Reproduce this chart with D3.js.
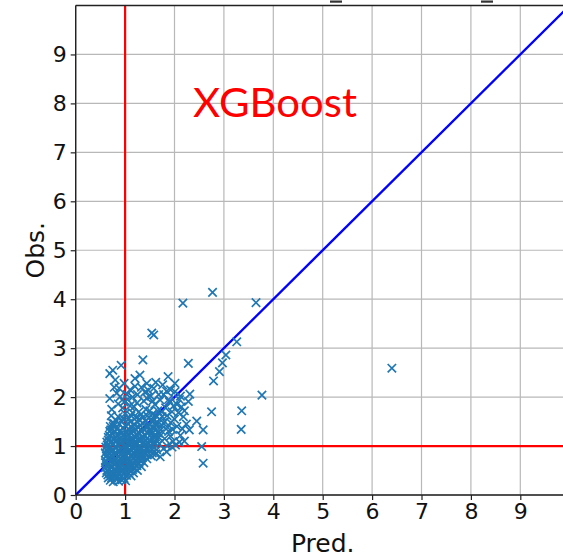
<!DOCTYPE html>
<html>
<head>
<meta charset="utf-8">
<script src="https://cdn.jsdelivr.net/npm/d3@7"></script>
<style>
  html, body { margin: 0; padding: 0; background: #fff; }
  svg { display: block; }
</style>
</head>
<body>
<svg id="chart" width="563" height="558"></svg>
<script>
// Axis ticks
const xTicks = [0, 1, 2, 3, 4, 5, 6, 7, 8, 9];
const yTicks = [0, 1, 2, 3, 4, 5, 6, 7, 8, 9];
const domainMax = 10;

// Reference thresholds (red lines)
const predThreshold = 1;
const obsThreshold = 1;

// Model label
const modelName = "XGBoost";

// Predicted vs observed pairs: [pred, obs]
const points = [
  // dense core
  [0.70,0.30],[0.76,0.27],[0.81,0.33],[0.87,0.28],[0.93,0.31],[0.98,0.34],[0.73,0.35],[0.84,0.36],[1.01,0.29],
  [0.65,0.41],[0.71,0.39],[0.77,0.43],[0.82,0.40],[0.88,0.44],[0.92,0.38],[0.97,0.42],[1.03,0.40],[1.08,0.44],[0.69,0.45],[0.86,0.46],[1.12,0.39],
  [0.63,0.50],[0.68,0.53],[0.74,0.48],[0.79,0.52],[0.84,0.49],[0.90,0.54],[0.95,0.50],[1.00,0.47],[1.05,0.53],[1.10,0.49],[1.15,0.52],[0.72,0.56],[0.88,0.57],[1.19,0.55],
  [0.62,0.60],[0.67,0.63],[0.73,0.59],[0.78,0.62],[0.83,0.65],[0.89,0.60],[0.94,0.64],[0.99,0.58],[1.04,0.62],[1.09,0.66],[1.13,0.59],[1.18,0.63],[1.24,0.60],[0.76,0.67],[1.01,0.68],[1.28,0.65],
  [0.61,0.70],[0.66,0.73],[0.71,0.69],[0.80,0.72],[0.86,0.70],[0.91,0.74],[0.96,0.71],[1.06,0.73],[1.11,0.70],[1.16,0.75],[1.21,0.71],[1.26,0.74],[1.31,0.70],[0.69,0.77],[0.85,0.78],[0.98,0.77],[1.14,0.79],[1.35,0.76],
  [0.62,0.80],[0.67,0.84],[0.74,0.81],[0.79,0.85],[0.90,0.82],[0.95,0.86],[1.02,0.81],[1.08,0.85],[1.12,0.82],[1.19,0.86],[1.23,0.80],[1.29,0.84],[1.34,0.81],[1.40,0.85],[0.72,0.88],[0.88,0.89],[1.05,0.89],[1.27,0.90],[1.45,0.82],
  [0.63,0.91],[0.68,0.95],[0.76,0.92],[0.82,0.96],[0.92,0.93],[0.99,0.91],[1.03,0.96],[1.10,0.92],[1.16,0.95],[1.21,0.91],[1.32,0.94],[1.37,0.90],[1.42,0.95],[1.48,0.91],[0.80,0.99],[0.97,0.99],[1.14,0.99],[1.55,0.93],
  [0.64,1.02],[0.70,1.00],[0.75,1.05],[0.86,1.03],[0.91,1.06],[1.00,1.01],[1.07,1.04],[1.12,1.07],[1.18,1.02],[1.24,1.05],[1.30,1.00],[1.35,1.04],[1.41,1.01],[1.46,1.06],[1.52,1.02],[1.60,1.04],[0.94,1.09],[1.21,1.10],[1.38,1.09],
  [0.66,1.12],[0.72,1.09],[0.78,1.14],[0.84,1.11],[0.89,1.16],[1.03,1.13],[1.09,1.15],[1.15,1.11],[1.26,1.14],[1.32,1.12],[1.44,1.15],[1.50,1.11],[1.56,1.14],[1.63,1.12],[0.81,1.19],[1.00,1.19],[1.18,1.20],[1.35,1.19],
  [0.68,1.22],[0.74,1.25],[0.87,1.23],[0.93,1.26],[0.97,1.21],[1.06,1.24],[1.12,1.27],[1.23,1.23],[1.29,1.26],[1.40,1.22],[1.46,1.27],[1.53,1.24],[1.59,1.21],[0.79,1.29],[1.02,1.30],[1.17,1.31],[1.34,1.30],[1.66,1.27],
  [0.71,1.33],[0.84,1.35],[0.90,1.32],[0.96,1.37],[1.08,1.34],[1.14,1.38],[1.21,1.35],[1.27,1.39],[1.38,1.34],[1.44,1.37],[1.50,1.33],[1.57,1.38],[0.76,1.40],[1.01,1.41],[1.31,1.42],[1.63,1.35],
  [0.74,1.47],[0.88,1.45],[0.94,1.50],[1.05,1.46],[1.11,1.49],[1.18,1.44],[1.24,1.50],[1.35,1.47],[1.42,1.51],[1.48,1.45],[1.55,1.49],[0.82,1.52],[1.29,1.54],[1.61,1.46],
  [1.02,0.55],[1.07,0.59],[1.22,0.67],[1.30,0.78],[1.38,0.88],[1.50,0.98],[1.58,1.08],[1.68,1.18],[1.72,1.33],[1.66,1.45],[1.58,1.56],[1.45,1.62],
  [1.36,1.58],[1.22,1.58],[1.08,1.56],[0.96,1.57],[0.86,1.60],[1.00,1.66],[1.15,1.68],[1.32,1.64],[1.50,1.72],[1.62,1.62],[1.74,1.70],[1.80,1.50],
  [1.86,1.38],[1.92,1.20],[1.96,1.34],[2.00,1.55],[1.84,0.88],[1.62,0.84],[1.53,0.80],[1.44,0.74],[1.38,0.66],[1.33,0.58],[1.25,0.50],[1.17,0.45],
  [0.66,0.35],[0.62,0.45],[0.60,0.56],[0.60,0.66],[0.60,0.86],[0.61,0.98],[0.63,1.08],[0.66,1.18],[0.69,1.30],[0.70,1.40],[0.78,1.46],[1.54,1.31],
  [1.62,1.19],[1.69,1.05],[1.55,0.86],[1.26,0.95],[1.36,1.16],[1.47,1.40],
  // upper spread
  [0.69,2.48],[0.92,2.65],[0.80,2.35],[0.69,1.97],[0.73,1.75],[0.90,2.01],[0.78,2.20],[0.86,1.86],[0.72,1.62],[0.95,1.78],[0.83,2.08],[0.98,2.28],[0.75,2.55],
  [1.20,2.38],[1.30,2.45],[1.44,2.28],[1.47,2.14],[1.87,2.42],[2.01,2.28],[2.01,2.11],[1.71,1.94],[1.36,2.76],[1.10,2.15],[1.25,2.05],[1.38,1.92],[1.52,2.02],
  [1.60,1.85],[1.18,1.80],[1.28,1.70],[1.42,1.75],[1.55,1.65],[1.66,1.72],[1.75,1.60],[1.82,1.78],[1.90,1.90],[1.95,1.70],[2.05,1.85],[1.12,1.62],[1.05,1.95],
  [1.33,2.20],[1.62,2.30],[1.78,2.05],[1.15,2.00],[1.48,1.58],[1.70,1.55],[1.85,1.62],[2.10,1.95],[1.92,2.15],
  [2.08,1.68],[2.14,1.80],[1.98,1.82],[1.88,1.95],[1.68,2.05],[1.56,1.92],[1.44,1.98],[1.24,1.88],[1.10,1.82],[0.98,1.90],[0.88,2.18],[1.04,2.05],
  [1.20,2.22],[1.40,2.10],[1.58,2.18],[1.76,2.25],[1.84,2.12],[2.12,2.02],
  // right of the core
  [1.71,0.78],[1.64,0.92],[1.97,1.09],[1.80,1.15],[1.88,1.30],[2.05,1.40],[1.75,1.42],[2.18,1.60],[2.30,1.33],[2.28,1.91],[2.31,2.06],[1.92,1.48],
  [2.12,1.22],[1.85,1.00],[2.02,1.02],[1.70,1.25],[1.78,0.95],[2.20,1.10],[2.20,1.72],[2.24,1.45],[2.16,1.35],[2.10,1.08],[1.95,0.98],
  // outliers
  [2.17,3.92],[2.77,4.14],[3.65,3.93],[3.26,3.13],[1.54,3.31],[1.58,3.27],[2.28,2.69],[3.04,2.86],[2.97,2.70],[2.91,2.52],[2.79,2.33],
  [3.77,2.04],[3.36,1.72],[3.35,1.34],[2.75,1.70],[2.58,1.33],[2.55,0.99],[2.58,0.65],[2.45,1.51],[6.40,2.59]
];

const svg = d3.select("#chart");
const x = d3.scaleLinear().domain([0, domainMax]).range([75.7, 569.7]);
const y = d3.scaleLinear().domain([0, domainMax]).range([495, 5.5]);

const fontTicks = "'DejaVu Sans', sans-serif";

// clip region for the plot area
svg.append("defs").append("clipPath").attr("id", "plotClip")
  .append("rect")
  .attr("x", x(0)).attr("y", y(domainMax))
  .attr("width", x(domainMax) - x(0)).attr("height", y(0) - y(domainMax));

// grid
const grid = svg.append("g");
grid.selectAll("line.gx").data(xTicks.concat([domainMax])).join("line")
  .attr("x1", d => x(d)).attr("x2", d => x(d))
  .attr("y1", y(0)).attr("y2", y(domainMax))
  .attr("stroke", "#b8b8b8").attr("stroke-width", 1.2);
grid.selectAll("line.gy").data(yTicks.concat([domainMax])).join("line")
  .attr("y1", d => y(d)).attr("y2", d => y(d))
  .attr("x1", x(0)).attr("x2", x(domainMax))
  .attr("stroke", "#b8b8b8").attr("stroke-width", 1.2);

const plot = svg.append("g").attr("clip-path", "url(#plotClip)");

// threshold lines
plot.append("line")
  .attr("x1", x(predThreshold)).attr("x2", x(predThreshold))
  .attr("y1", y(0)).attr("y2", y(domainMax))
  .attr("stroke", "#ff0000").attr("stroke-width", 2.2);
plot.append("line")
  .attr("x1", x(0)).attr("x2", x(domainMax))
  .attr("y1", y(obsThreshold)).attr("y2", y(obsThreshold))
  .attr("stroke", "#ff0000").attr("stroke-width", 2.2);

// identity line
plot.append("line")
  .attr("x1", x(0)).attr("y1", y(0))
  .attr("x2", x(domainMax)).attr("y2", y(domainMax))
  .attr("stroke", "#0000ff").attr("stroke-width", 2.4);

// x markers
const m = 4.2;
plot.append("g").selectAll("path").data(points).join("path")
  .attr("d", d => {
    const cx = x(d[0]), cy = y(d[1]);
    return `M${cx - m},${cy - m}L${cx + m},${cy + m}M${cx - m},${cy + m}L${cx + m},${cy - m}`;
  })
  .attr("fill", "none")
  .attr("stroke", "#1f77b4")
  .attr("stroke-width", 1.7);

// axes
const axL = svg.append("g").attr("transform", `translate(${x(0)},0)`)
  .call(d3.axisLeft(y).tickValues(yTicks).tickFormat(d3.format("d")).tickSize(5).tickPadding(4));
const axB = svg.append("g").attr("transform", `translate(0,${y(0)})`)
  .call(d3.axisBottom(x).tickValues(xTicks).tickFormat(d3.format("d")).tickSize(5).tickPadding(3));
[axL, axB].forEach(ax => {
  ax.select(".domain").remove();
  ax.selectAll(".tick line").attr("stroke", "#222").attr("stroke-width", 1.2);
  ax.selectAll(".tick text").attr("fill", "#111")
    .style("font-family", fontTicks).style("font-size", "22px");
});

// spines
svg.append("line").attr("x1", x(0)).attr("x2", x(0)).attr("y1", y(0)).attr("y2", y(domainMax))
  .attr("stroke", "#222").attr("stroke-width", 1.4);
svg.append("line").attr("x1", x(0)).attr("x2", x(domainMax)).attr("y1", y(0)).attr("y2", y(0))
  .attr("stroke", "#222").attr("stroke-width", 1.4);
svg.append("line").attr("x1", x(0)).attr("x2", x(domainMax)).attr("y1", y(domainMax)).attr("y2", y(domainMax))
  .attr("stroke", "#222").attr("stroke-width", 1.4);

// remnants of the clipped heading above the frame
svg.append("rect").attr("x", 330).attr("y", 0.5).attr("width", 12).attr("height", 2.2).attr("fill", "#333");
svg.append("rect").attr("x", 481).attr("y", 0.5).attr("width", 12).attr("height", 2.2).attr("fill", "#333");

// axis titles
svg.append("text")
  .attr("x", (x(0) + x(domainMax)) / 2).attr("y", 552)
  .attr("text-anchor", "middle")
  .style("font-family", fontTicks).style("font-size", "25px").attr("fill", "#111")
  .text("Pred.");
svg.append("text")
  .attr("transform", `translate(44,${(y(0) + y(domainMax)) / 2}) rotate(-90)`)
  .attr("text-anchor", "middle")
  .style("font-family", fontTicks).style("font-size", "25px").attr("fill", "#111")
  .text("Obs.");

// model label
svg.append("text")
  .attr("x", 193).attr("y", 117)
  .attr("textLength", 164).attr("lengthAdjust", "spacingAndGlyphs")
  .style("font-family", "Lato, 'Open Sans', sans-serif").style("font-size", "41px")
  .attr("fill", "#ff0000")
  .text(modelName);
</script>
</body>
</html>
